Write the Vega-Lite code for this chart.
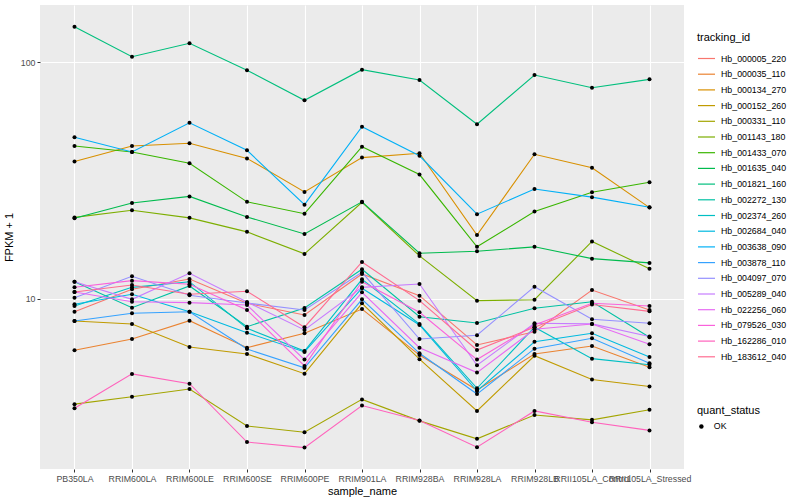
{
  "$schema": "https://vega.github.io/schema/vega-lite/v6.json",
  "autosize": "none",
  "width": 644,
  "height": 464,
  "padding": {"left": 40, "top": 5, "right": 116, "bottom": 31},
  "background": "white",
  "config": {
    "font": "Liberation Sans",
    "view": {"fill": "#EBEBEB", "stroke": null},
    "axis": {
      "domain": false,
      "grid": true,
      "gridColor": "#FFFFFF",
      "gridWidth": 1.1,
      "labelFont": "Liberation Sans",
      "labelFontSize": 8.8,
      "labelColor": "#4D4D4D",
      "tickColor": "#333333",
      "tickSize": 3,
      "labelPadding": 2,
      "titleFont": "Liberation Sans",
      "titleFontSize": 11,
      "titleFontWeight": "normal",
      "titleColor": "#000000"
    },
    "legend": {
      "titleFont": "Liberation Sans",
      "titleFontSize": 11,
      "titleFontWeight": "normal",
      "titleColor": "#000000",
      "labelFont": "Liberation Sans",
      "labelFontSize": 8.8,
      "labelColor": "#000000"
    }
  },
  "data": {
    "values": [
      {"tracking_id": "Hb_000005_220", "quant_status": "OK", "PB350LA": 8.84, "RRIM600LA": 10.99, "RRIM600LE": 12.14, "RRIM600SE": 9.59, "RRIM600PE": 8.56, "RRIM901LA": 12.75, "RRIM928BA": 10.33, "RRIM928LA": 6.40, "RRIM928LB": 7.28, "RRII105LA_Control": 10.91, "RRII105LA_Stressed": 8.99},
      {"tracking_id": "Hb_000035_110", "quant_status": "OK", "PB350LA": 6.08, "RRIM600LA": 6.78, "RRIM600LE": 8.10, "RRIM600SE": 6.23, "RRIM600PE": 7.17, "RRIM901LA": 9.07, "RRIM928BA": 5.80, "RRIM928LA": 4.13, "RRIM928LB": 5.86, "RRII105LA_Control": 6.33, "RRII105LA_Stressed": 5.15},
      {"tracking_id": "Hb_000134_270", "quant_status": "OK", "PB350LA": 38.0, "RRIM600LA": 44.2, "RRIM600LE": 45.4, "RRIM600SE": 39.2, "RRIM600PE": 28.3, "RRIM901LA": 39.5, "RRIM928BA": 41.2, "RRIM928LA": 18.6, "RRIM928LB": 40.8, "RRII105LA_Control": 35.8, "RRII105LA_Stressed": 24.3},
      {"tracking_id": "Hb_000152_260", "quant_status": "OK", "PB350LA": 8.08, "RRIM600LA": 7.84, "RRIM600LE": 6.27, "RRIM600SE": 5.86, "RRIM600PE": 4.84, "RRIM901LA": 9.59, "RRIM928BA": 5.57, "RRIM928LA": 3.37, "RRIM928LB": 5.76, "RRII105LA_Control": 4.57, "RRII105LA_Stressed": 4.27},
      {"tracking_id": "Hb_000331_110", "quant_status": "OK", "PB350LA": 3.60, "RRIM600LA": 3.87, "RRIM600LE": 4.17, "RRIM600SE": 2.91, "RRIM600PE": 2.74, "RRIM901LA": 3.77, "RRIM928BA": 3.06, "RRIM928LA": 2.57, "RRIM928LB": 3.24, "RRII105LA_Control": 3.09, "RRII105LA_Stressed": 3.41},
      {"tracking_id": "Hb_001143_180", "quant_status": "OK", "PB350LA": 22.1, "RRIM600LA": 23.7, "RRIM600LE": 22.0, "RRIM600SE": 19.2, "RRIM600PE": 15.5, "RRIM901LA": 25.6, "RRIM928BA": 15.2, "RRIM928LA": 9.84, "RRIM928LB": 9.93, "RRII105LA_Control": 17.5, "RRII105LA_Stressed": 13.4},
      {"tracking_id": "Hb_001433_070", "quant_status": "OK", "PB350LA": 44.2, "RRIM600LA": 41.7, "RRIM600LE": 37.4, "RRIM600SE": 25.7, "RRIM600PE": 22.9, "RRIM901LA": 43.9, "RRIM928BA": 33.5, "RRIM928LA": 16.6, "RRIM928LB": 23.4, "RRII105LA_Control": 28.2, "RRII105LA_Stressed": 31.1},
      {"tracking_id": "Hb_001635_040", "quant_status": "OK", "PB350LA": 21.9, "RRIM600LA": 25.4, "RRIM600LE": 27.1, "RRIM600SE": 22.2, "RRIM600PE": 18.8, "RRIM901LA": 25.7, "RRIM928BA": 15.6, "RRIM928LA": 15.9, "RRIM928LB": 16.6, "RRII105LA_Control": 14.8, "RRII105LA_Stressed": 14.2},
      {"tracking_id": "Hb_001821_160", "quant_status": "OK", "PB350LA": 140.9, "RRIM600LA": 105.3, "RRIM600LE": 119.9, "RRIM600SE": 92.3, "RRIM600PE": 68.9, "RRIM901LA": 92.8, "RRIM928BA": 84.0, "RRIM928LA": 54.6, "RRIM928LB": 88.1, "RRII105LA_Control": 77.9, "RRII105LA_Stressed": 84.5},
      {"tracking_id": "Hb_002272_130", "quant_status": "OK", "PB350LA": 11.83, "RRIM600LA": 9.19, "RRIM600LE": 11.35, "RRIM600SE": 7.64, "RRIM600PE": 9.16, "RRIM901LA": 13.35, "RRIM928BA": 8.42, "RRIM928LA": 7.92, "RRIM928LB": 9.14, "RRII105LA_Control": 9.74, "RRII105LA_Stressed": 6.89},
      {"tracking_id": "Hb_002374_260", "quant_status": "OK", "PB350LA": 9.34, "RRIM600LA": 11.20, "RRIM600LE": 11.83, "RRIM600SE": 7.52, "RRIM600PE": 6.03, "RRIM901LA": 12.11, "RRIM928BA": 7.84, "RRIM928LA": 4.20, "RRIM928LB": 7.60, "RRII105LA_Control": 5.60, "RRII105LA_Stressed": 5.28},
      {"tracking_id": "Hb_002684_040", "quant_status": "OK", "PB350LA": 9.50, "RRIM600LA": 10.47, "RRIM600LE": 8.84, "RRIM600SE": 7.21, "RRIM600PE": 5.98, "RRIM901LA": 11.10, "RRIM928BA": 7.77, "RRIM928LA": 4.09, "RRIM928LB": 6.60, "RRII105LA_Control": 7.17, "RRII105LA_Stressed": 5.69},
      {"tracking_id": "Hb_003638_090", "quant_status": "OK", "PB350LA": 48.1, "RRIM600LA": 41.7, "RRIM600LE": 55.4, "RRIM600SE": 42.4, "RRIM600PE": 25.0, "RRIM901LA": 53.3, "RRIM928BA": 40.2, "RRIM928LA": 22.8, "RRIM928LB": 29.1, "RRII105LA_Control": 26.9, "RRII105LA_Stressed": 24.4},
      {"tracking_id": "Hb_003878_110", "quant_status": "OK", "PB350LA": 8.08, "RRIM600LA": 8.70, "RRIM600LE": 8.84, "RRIM600SE": 6.15, "RRIM600PE": 5.12, "RRIM901LA": 9.97, "RRIM928BA": 5.90, "RRIM928LA": 3.97, "RRIM928LB": 6.17, "RRII105LA_Control": 6.83, "RRII105LA_Stressed": 5.35},
      {"tracking_id": "Hb_004097_070", "quant_status": "OK", "PB350LA": 10.13, "RRIM600LA": 12.47, "RRIM600LE": 10.37, "RRIM600SE": 9.62, "RRIM600PE": 8.99, "RRIM901LA": 12.96, "RRIM928BA": 6.78, "RRIM928LA": 7.03, "RRIM928LB": 11.27, "RRII105LA_Control": 8.21, "RRII105LA_Stressed": 7.90},
      {"tracking_id": "Hb_005289_040", "quant_status": "OK", "PB350LA": 11.83, "RRIM600LA": 9.97, "RRIM600LE": 12.84, "RRIM600SE": 9.71, "RRIM600PE": 7.40, "RRIM901LA": 11.20, "RRIM928BA": 11.57, "RRIM928LA": 5.25, "RRIM928LB": 7.90, "RRII105LA_Control": 7.85, "RRII105LA_Stressed": 6.95},
      {"tracking_id": "Hb_022256_060", "quant_status": "OK", "PB350LA": 10.70, "RRIM600LA": 9.74, "RRIM600LE": 9.65, "RRIM600SE": 9.43, "RRIM600PE": 5.55, "RRIM901LA": 10.67, "RRIM928BA": 6.23, "RRIM928LA": 4.89, "RRIM928LB": 7.45, "RRII105LA_Control": 7.84, "RRII105LA_Stressed": 6.44},
      {"tracking_id": "Hb_079526_030", "quant_status": "OK", "PB350LA": 11.20, "RRIM600LA": 11.95, "RRIM600LE": 11.54, "RRIM600SE": 8.99, "RRIM600PE": 5.22, "RRIM901LA": 11.83, "RRIM928BA": 8.79, "RRIM928LA": 5.55, "RRIM928LB": 7.77, "RRII105LA_Control": 9.59, "RRII105LA_Stressed": 9.34},
      {"tracking_id": "Hb_162286_010", "quant_status": "OK", "PB350LA": 3.46, "RRIM600LA": 4.83, "RRIM600LE": 4.39, "RRIM600SE": 2.49, "RRIM600PE": 2.36, "RRIM901LA": 3.55, "RRIM928BA": 3.07, "RRIM928LA": 2.37, "RRIM928LB": 3.37, "RRII105LA_Control": 3.02, "RRII105LA_Stressed": 2.79},
      {"tracking_id": "Hb_183612_040", "quant_status": "OK", "PB350LA": 10.70, "RRIM600LA": 11.46, "RRIM600LE": 10.47, "RRIM600SE": 10.78, "RRIM600PE": 7.60, "RRIM901LA": 14.33, "RRIM928BA": 9.84, "RRIM928LA": 6.09, "RRIM928LB": 7.60, "RRII105LA_Control": 9.48, "RRII105LA_Stressed": 8.87}
    ]
  },
  "transform": [
    {"fold": ["PB350LA", "RRIM600LA", "RRIM600LE", "RRIM600SE", "RRIM600PE", "RRIM901LA", "RRIM928BA", "RRIM928LA", "RRIM928LB", "RRII105LA_Control", "RRII105LA_Stressed"], "as": ["sample_name", "fpkm"]}
  ],
  "encoding": {
    "x": {
      "field": "sample_name",
      "type": "nominal",
      "sort": ["PB350LA", "RRIM600LA", "RRIM600LE", "RRIM600SE", "RRIM600PE", "RRIM901LA", "RRIM928BA", "RRIM928LA", "RRIM928LB", "RRII105LA_Control", "RRII105LA_Stressed"],
      "scale": {"type": "point", "padding": 0.6},
      "axis": {"title": "sample_name", "labelAngle": 0, "labelOverlap": false, "labelBound": false, "labelFlush": false, "titlePadding": 3}
    },
    "y": {
      "field": "fpkm",
      "type": "quantitative",
      "scale": {"type": "log", "domain": [1.917, 174], "nice": false, "zero": false}
    }
  },
  "layer": [
    {
      "mark": {"type": "line", "strokeWidth": 1.1},
      "encoding": {
        "y": {"field": "fpkm", "type": "quantitative", "axis": {"title": "FPKM + 1", "values": [10, 100], "format": "d", "titlePadding": 6}},
        "color": {
          "field": "tracking_id",
          "type": "nominal",
          "scale": {"range": ["#F8766D", "#EA8331", "#D89000", "#C09B00", "#A3A500", "#7CAE00", "#39B600", "#00BB4E", "#00BF7D", "#00C1A3", "#00BFC4", "#00BAE0", "#00B0F6", "#35A2FF", "#9590FF", "#C77CFF", "#E76BF3", "#FA62DB", "#FF62BC", "#FF6C91"]},
          "legend": {"title": "tracking_id", "orient": "none", "legendX": 657, "legendY": 27, "symbolType": "stroke", "symbolSize": 290, "symbolStrokeWidth": 1.2, "rowPadding": 0.7, "labelOffset": 5, "titlePadding": 6}
        }
      }
    },
    {
      "mark": {"type": "point", "filled": true, "color": "#000000", "size": 16, "opacity": 1},
      "encoding": {
        "y": {"field": "fpkm", "type": "quantitative", "axis": {"title": null, "values": [3.1623, 31.623], "labels": false, "ticks": false, "gridWidth": 0.55}},
        "shape": {
          "field": "quant_status",
          "type": "nominal",
          "scale": {"range": ["circle"]},
          "legend": {"title": "quant_status", "orient": "none", "legendX": 657, "legendY": 400, "symbolSize": 20, "labelOffset": 8, "titlePadding": 6}
        }
      }
    }
  ],
  "resolve": {"axis": {"y": "independent"}}
}
